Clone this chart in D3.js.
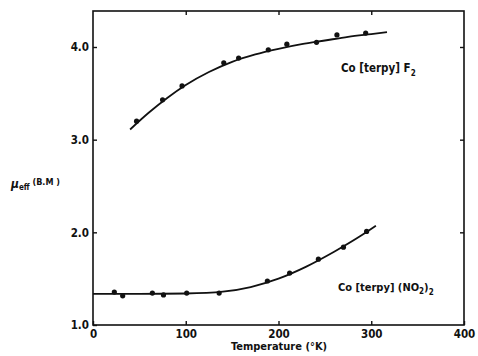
<!DOCTYPE html>
<html>
<head>
<meta charset="utf-8">
<script src="https://cdn.jsdelivr.net/npm/d3@7"></script>
<style>
  body { margin: 0; background: #fff; }
  svg { display: block; }
  text { font-family: "DejaVu Sans Condensed", "DejaVu Sans", sans-serif; font-weight: bold; fill: #111; }
</style>
</head>
<body>
<svg></svg>
<script>
// measured points, Co[terpy]F2
let f2Temp = [47, 75, 96, 141, 157, 189, 209, 241, 263, 294]
let f2Mu = [3.20, 3.43, 3.58, 3.83, 3.88, 3.97, 4.03, 4.05, 4.13, 4.15]
// drawn curve through them
let f2CurveTemp = [40, 60, 80, 100, 125, 150, 175, 200, 225, 250, 275, 300, 317]
let f2CurveMu = [3.11, 3.29, 3.45, 3.59, 3.73, 3.84, 3.92, 3.98, 4.03, 4.07, 4.11, 4.14, 4.16]

// measured points, Co[terpy](NO2)2
let no2Temp = [23, 32, 64, 76, 101, 136, 188, 212, 243, 270, 295]
let no2Mu = [1.355, 1.315, 1.345, 1.325, 1.345, 1.345, 1.475, 1.56, 1.71, 1.84, 2.01]
let no2CurveTemp = [0, 50, 100, 140, 170, 200, 230, 260, 290, 305]
let no2CurveMu = [1.335, 1.335, 1.34, 1.36, 1.41, 1.50, 1.63, 1.79, 1.97, 2.07]

let xTicks = [0, 100, 200, 300, 400]
let yTicks = [1.0, 2.0, 3.0, 4.0]

let width = 478
let height = 356
let padLeft = 93, padRight = 464, padTop = 11, padBottom = 325

let svg = d3.select('svg').attr('width', width).attr('height', height)

let xScale = d3.scaleLinear().domain([0, 400]).range([padLeft, padRight])
let yScale = d3.scaleLinear().domain([1.0, 4.0]).range([padBottom, 47])

// frame
svg.append('rect')
    .attr('x', padLeft).attr('y', padTop)
    .attr('width', padRight - padLeft).attr('height', padBottom - padTop)
    .attr('fill', 'none').attr('stroke', '#111').attr('stroke-width', 1.6)

// axes with inward ticks
let xAxis = d3.axisBottom(xScale).tickValues(xTicks).tickSizeInner(-4).tickSizeOuter(0).tickPadding(5)
    .tickFormat(d3.format('d'))
let gx = svg.append('g').attr('transform', 'translate(0,' + padBottom + ')').call(xAxis)
gx.select('.domain').remove()

let yAxis = d3.axisLeft(yScale).tickValues(yTicks).tickSizeInner(-4).tickSizeOuter(0).tickPadding(4)
    .tickFormat(d3.format('.1f'))
let gy = svg.append('g').attr('transform', 'translate(' + padLeft + ',0)').call(yAxis)
gy.select('.domain').remove()

// top and right ticks
let gt = svg.append('g').attr('transform', 'translate(0,' + padTop + ')')
    .call(d3.axisTop(xScale).tickValues([100, 200, 300]).tickSizeInner(-4).tickSizeOuter(0).tickFormat(''))
gt.select('.domain').remove()
let gr = svg.append('g').attr('transform', 'translate(' + padRight + ',0)')
    .call(d3.axisRight(yScale).tickValues([2.0, 3.0, 4.0]).tickSizeInner(-4).tickSizeOuter(0).tickFormat(''))
gr.select('.domain').remove()

svg.selectAll('.tick line').attr('stroke', '#111').attr('stroke-width', 1.4)
svg.selectAll('.tick text').attr('font-size', 11.5).attr('font-family', '"DejaVu Sans Condensed", sans-serif')
    .attr('font-weight', 'bold').attr('fill', '#111')

let line = d3.line().x(d => xScale(d[0])).y(d => yScale(d[1])).curve(d3.curveMonotoneX)

let drawSeries = (curveT, curveM, ptT, ptM) => {
    svg.append('path')
        .datum(d3.zip(curveT, curveM))
        .attr('d', line)
        .attr('fill', 'none').attr('stroke', '#111').attr('stroke-width', 1.8)
    svg.append('g').selectAll('circle')
        .data(d3.zip(ptT, ptM))
        .enter()
        .append('circle')
        .attr('cx', d => xScale(d[0]))
        .attr('cy', d => yScale(d[1]))
        .attr('r', 2.6)
        .attr('fill', '#111')
}

drawSeries(f2CurveTemp, f2CurveMu, f2Temp, f2Mu)
drawSeries(no2CurveTemp, no2CurveMu, no2Temp, no2Mu)

// series labels
let lab1 = svg.append('text').attr('x', 341).attr('y', 72).attr('font-size', 11.5)
lab1.append('tspan').text('Co [terpy] F')
lab1.append('tspan').attr('font-size', 8).attr('dy', 4).text('2')

let lab2 = svg.append('text').attr('x', 338).attr('y', 291).attr('font-size', 11)
lab2.append('tspan').text('Co [terpy] (NO')
lab2.append('tspan').attr('font-size', 8).attr('dy', 3).text('2')
lab2.append('tspan').attr('dy', -3).text(')')
lab2.append('tspan').attr('font-size', 8).attr('dy', 4).text('2')

// axis titles
let ylab = svg.append('text').attr('x', 11).attr('y', 188).attr('font-size', 12)
ylab.append('tspan').attr('font-style', 'italic').text('μ')
ylab.append('tspan').attr('font-size', 8).attr('dy', 2).text('eff')
ylab.append('tspan').attr('font-size', 9).attr('dy', -5).text(' (B.M )')

svg.append('text').attr('x', 279).attr('y', 350).attr('text-anchor', 'middle').attr('font-size', 11)
    .text('Temperature (°K)')
</script>
</body>
</html>
